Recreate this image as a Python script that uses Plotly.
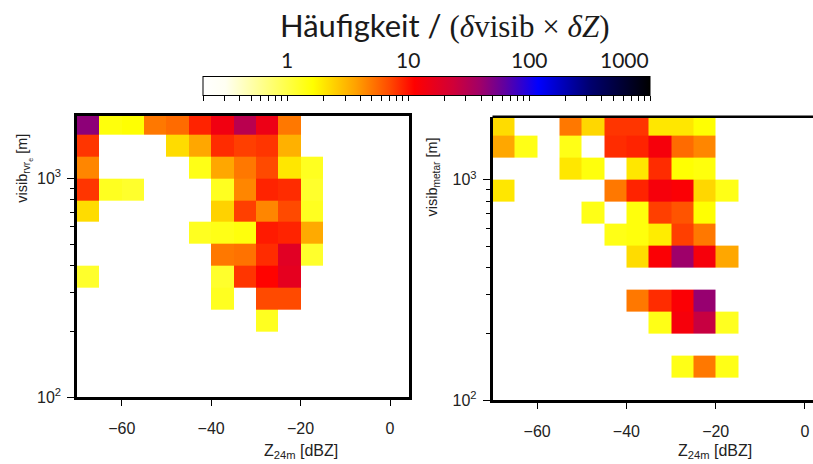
import numpy as np
import plotly.graph_objects as go

W, H = 813, 464
N = None

# 5 dBZ reflectivity bins (bin edges)
z_edges = [-70, -65, -60, -55, -50, -45, -40, -35, -30, -25, -20, -15]
# visibility bins, 0.1 decade wide (bin edges in m)
vis_edges = [100, 125.9, 158.5, 199.5, 251.2, 316.2, 398.1, 501.2, 631.0,
             794.3, 1000, 1258.9, 1584.9, 1995.3]

# normalised frequencies, rows listed from the highest visibility bin downwards
freq_rvr = [
    [45, 1.5, 1.6, 5, 5.5, 9, 14, 30, 15, 5, N],
    [8, N, N, N, 2.2, 3.5, 8.5, 7.5, 8, 3.2, N],
    [4.5, N, N, N, N, 1.4, 3.5, 5, 7, 2, 1.3],
    [8, 1.3, 1.2, N, N, N, 1.3, 4.5, 9, 8.5, 1.2],
    [2.2, N, N, N, N, N, 2.4, 7.5, 4.5, 7, 1.3],
    [N, N, N, N, N, 1.3, 1.4, 1.5, 9.5, 9, 3.4],
    [N, N, N, N, N, N, 5, 5.2, 8.5, 18, 1.2],
    [1.2, N, N, N, N, N, 1.2, 8, 11, 17, N],
    [N, N, N, N, N, N, 1.3, N, 7, 7, N],
    [N, N, N, N, N, N, N, N, 1.3, N, N],
    [N] * 11,
    [N] * 11,
    [N] * 11,
]

freq_metar = [
    [2.2, N, N, 5, 2.3, 8, 8, 2, 2, 1.6, N],
    [3.5, 1.4, N, 1.4, N, 8.5, 9, 13, 5.5, 4.5, N],
    [N, N, N, 2, 1.5, N, 2, 8.5, 1.6, 1.5, N],
    [2, N, N, N, N, 5, 9, 13, 12, 2.3, 1.4],
    [N, N, N, N, 1.4, N, 1.5, 7.5, 6.5, 1.6, N],
    [N, N, N, N, N, 1.4, 1.5, 1.9, 7.5, 5, N],
    [N, N, N, N, N, N, 2.2, 12, 40, 13, 3.5],
    [N] * 11,
    [N, N, N, N, N, N, 5, 8.5, 12, 42, N],
    [N, N, N, N, N, N, N, 1.4, 13, 26, 1.3],
    [N] * 11,
    [N, N, N, N, N, N, N, N, 1.4, 5, 1.4],
    [N] * 11,
]

cbar_min, cbar_max = 0.2, 1000
cbar_labels = [1, 10, 100, 1000]
cbar_minor = [0.2, 0.3, 0.4, 0.5, 0.6, 0.7, 0.8, 0.9,
              1, 2, 3, 4, 5, 6, 7, 8, 9,
              10, 20, 30, 40, 50, 60, 70, 80, 90,
              100, 200, 300, 400, 500, 600, 700, 800, 900, 1000]
y_minor = [200, 300, 400, 500, 600, 700, 800, 900]


def log_grid(rows):
    arr = np.array([[np.nan if v is None else v for v in r] for r in rows[::-1]], dtype=float)
    return np.log10(arr)


def px(x):
    return x / W


def py(y):
    return 1 - y / H


colorscale = [
    [0.0, "#FFFFFF"],
    [0.05, "#FFFFF2"],
    [0.246, "#FFFF00"],
    [0.343, "#FFA000"],
    [0.419, "#FF4800"],
    [0.473, "#FF0000"],
    [0.56, "#D00038"],
    [0.62, "#A00068"],
    [0.675, "#6000A0"],
    [0.75, "#0000FF"],
    [0.865, "#000070"],
    [1.0, "#000000"],
]

fig = go.Figure()
fig.add_trace(go.Heatmap(x=z_edges, y=vis_edges, z=log_grid(freq_rvr),
                         coloraxis="coloraxis", xaxis="x", yaxis="y",
                         hoverinfo="skip"))
fig.add_trace(go.Heatmap(x=z_edges, y=vis_edges, z=log_grid(freq_metar),
                         coloraxis="coloraxis", xaxis="x2", yaxis="y2",
                         hoverinfo="skip"))

tick_font = dict(family="Liberation Sans, Arial, sans-serif", size=16, color="#222")

common_x = dict(tickvals=[-60, -40, -20, 0], ticktext=["\u221260", "\u221240", "\u221220", "0"],
                ticks="outside", ticklen=6, tickwidth=1, tickcolor="black",
                showline=True, linecolor="black", linewidth=2.5,
                showgrid=False, zeroline=False, tickfont=tick_font,
                ticklabelstandoff=9)
common_y = dict(type="log", tickvals=[100, 1000],
                ticktext=["10<sup>2</sup>", "10<sup>3</sup>"],
                ticks="outside", ticklen=7, tickwidth=1, tickcolor="black",
                minor=dict(tickvals=y_minor, ticks="outside", ticklen=4,
                           tickcolor="black", tickwidth=1, showgrid=False),
                showline=True, linecolor="black", linewidth=2.5,
                showgrid=False, zeroline=False, tickfont=tick_font,
                ticklabelstandoff=3)

fig.update_layout(
    width=W, height=H,
    margin=dict(l=0, r=0, t=0, b=0),
    paper_bgcolor="white", plot_bgcolor="white",
    showlegend=False,
    xaxis=dict(domain=[px(77), px(409)], range=[-70, 4.25], anchor="y",
               mirror=True, **common_x),
    yaxis=dict(domain=[py(405), py(118)], range=[2, 3.286], anchor="x",
               mirror=True, **common_y),
    xaxis2=dict(domain=[px(492.5), 1.0], range=[-70, 1.8], anchor="y2",
                mirror=False, **common_x),
    yaxis2=dict(domain=[py(408), py(119)], range=[2, 3.286], anchor="x2",
                mirror=False, **common_y),
    coloraxis=dict(
        colorscale=colorscale,
        cmin=np.log10(cbar_min), cmax=np.log10(cbar_max),
        colorbar=dict(
            orientation="h",
            x=px(426.5), xanchor="center",
            y=py(91), yanchor="middle",
            len=447, lenmode="pixels",
            thickness=19, thicknessmode="pixels",
            xpad=0, ypad=0,
            outlinewidth=1, outlinecolor="black",
            tickmode="array", tickvals=np.log10(cbar_minor).tolist(),
            ticks="outside", ticklen=5, tickwidth=1, tickcolor="black",
            showticklabels=False,
        ),
    ),
)

# top frame line of the right panel (its right side runs past the page)
fig.add_shape(type="line", xref="x2 domain", yref="y2 domain",
              x0=0, x1=1, y0=1, y1=1, line=dict(color="black", width=2.5))

label_font = dict(family="Lato, Open Sans, sans-serif", size=21, color="#1a1a1a")
lo, hi = np.log10(cbar_min), np.log10(cbar_max)
for v in cbar_labels:
    frac = (np.log10(v) - lo) / (hi - lo)
    xpix = 203 + frac * 447
    anchor = "center"
    if v == cbar_labels[-1]:
        xpix, anchor = 651, "right"
    fig.add_annotation(x=px(xpix), y=py(61), xref="paper", yref="paper",
                       text=str(v), showarrow=False, xanchor=anchor,
                       yanchor="middle", font=label_font)

fig.add_annotation(
    x=px(444), y=py(26), xref="paper", yref="paper", showarrow=False,
    xanchor="center", yanchor="middle",
    text=("H\u00e4ufigkeit / <span style='font-family:Liberation Serif, DejaVu Serif, serif'>"
          "(<i>\u03b4</i>visib \u00d7 <i>\u03b4Z</i>)</span>"),
    font=dict(family="Lato, Open Sans, sans-serif", size=31, color="#1a1a1a"),
)

title_font = dict(family="Liberation Sans, Arial, sans-serif", size=16, color="#222")
ytitle_font = dict(family="Liberation Sans, Arial, sans-serif", size=14.5, color="#222")
fig.add_annotation(x=px(301), y=py(460), xref="paper", yref="paper", showarrow=False,
                   text="Z<sub>24m</sub> [dBZ]", font=title_font,
                   xanchor="center", yanchor="middle")
fig.add_annotation(x=px(715), y=py(460), xref="paper", yref="paper", showarrow=False,
                   text="Z<sub>24m</sub> [dBZ]", font=title_font,
                   xanchor="center", yanchor="middle")
fig.add_annotation(x=px(24), y=py(172), xref="paper", yref="paper", showarrow=False,
                   text="visib<sub>rvr<sub>e</sub></sub> [m]", textangle=-90,
                   font=ytitle_font, xanchor="center", yanchor="middle")
fig.add_annotation(x=px(433), y=py(181), xref="paper", yref="paper", showarrow=False,
                   text="visib<sub>metar</sub> [m]", textangle=-90,
                   font=ytitle_font, xanchor="center", yanchor="middle")

fig.write_html("out.html")
